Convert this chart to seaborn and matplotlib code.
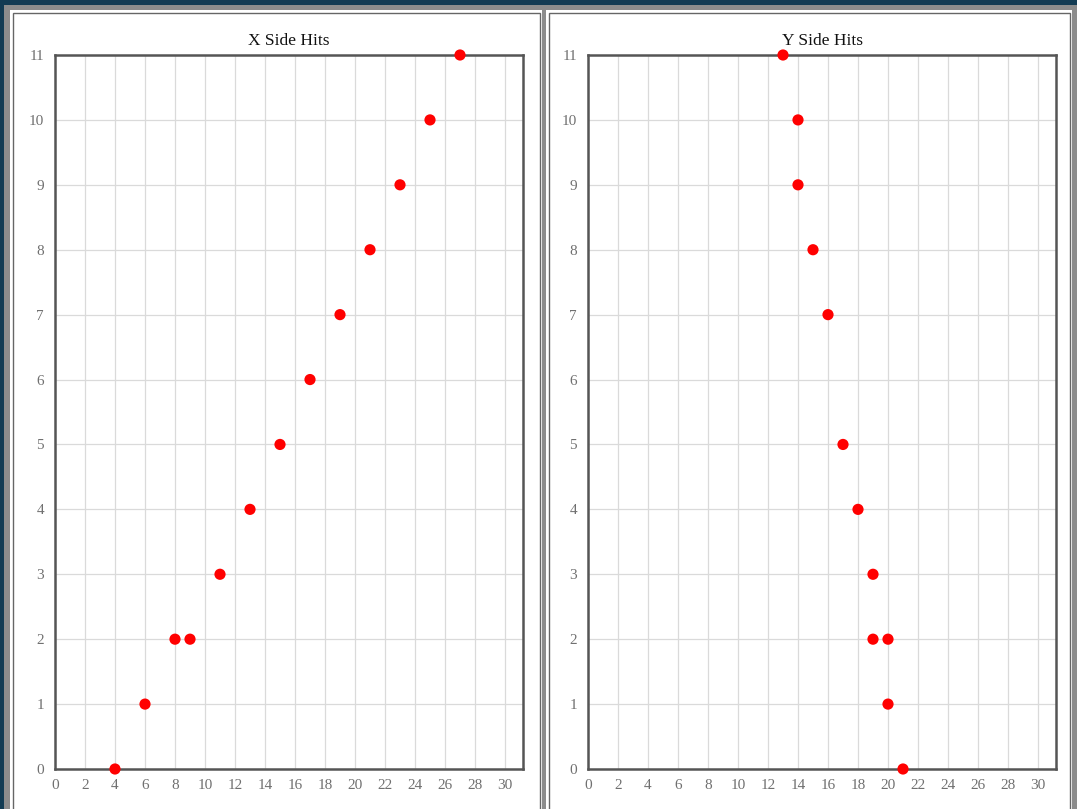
import matplotlib
matplotlib.use("Agg")
import matplotlib.pyplot as plt
from matplotlib.patches import Rectangle
import seaborn as sns
import pandas as pd

# X side hits
x_side_x = [4, 6, 8, 9, 11, 13, 15, 17, 19, 21, 23, 25, 27]
x_side_y = [0, 1, 2, 2, 3, 4, 5, 6, 7, 8, 9, 10, 11]

# Y side hits
y_side_x = [21, 20, 19, 20, 19, 18, 17, 16, 15, 14, 14, 13]
y_side_y = [0, 1, 2, 2, 3, 4, 5, 7, 8, 9, 10, 11]

x_ticks = list(range(0, 31, 2))
y_ticks = list(range(0, 12))

sns.set_theme(style="whitegrid")
plt.rcParams['font.family'] = ['Liberation Serif', 'DejaVu Serif']

W, H = 1077, 809
fig = plt.figure(figsize=(W / 100, H / 100), dpi=100)
fig.patch.set_facecolor('#123b53')


def px_rect(x0, y0, x1, y1, **kw):
    # rectangle in pixel coords (top-left origin), kept behind the axes
    return Rectangle((x0 / W, 1 - y1 / H), (x1 - x0) / W, (y1 - y0) / H,
                     transform=fig.transFigure, zorder=-10, **kw)


fig.patches.append(px_rect(4, 5, W, H + 5, facecolor='#8c8c8c', edgecolor='none'))
fig.patches.append(px_rect(10, 10, 542, H + 5, facecolor='white', edgecolor='none'))
fig.patches.append(px_rect(546, 10, 1072, H + 5, facecolor='white', edgecolor='none'))
fig.patches.append(px_rect(12.5, 12.5, 540, H + 5, facecolor='none', edgecolor='#666666', linewidth=1))
fig.patches.append(px_rect(548.5, 12.5, 1070, H + 5, facecolor='none', edgecolor='#666666', linewidth=1))

panels = [
    ("X Side Hits", x_side_x, x_side_y, 55),
    ("Y Side Hits", y_side_x, y_side_y, 588),
]

for title, xs, ys, left_px in panels:
    ax = fig.add_axes([left_px / W, (H - 769) / H, 468 / W, 714 / H])
    df = pd.DataFrame({'x': xs, 'y': ys})
    sns.scatterplot(data=df, x='x', y='y', ax=ax, color='#ff0000', s=65,
                    edgecolor='none', clip_on=False, zorder=5)
    ax.set_xlim(0, 31.2)
    ax.set_ylim(0, 11)
    ax.set_xticks(x_ticks)
    ax.set_yticks(y_ticks)
    ax.set_xlabel('')
    ax.set_ylabel('')
    ax.grid(True, color='#dadada', linewidth=0.9)
    ax.set_facecolor('white')
    for sp in ax.spines.values():
        sp.set_visible(True)
        sp.set_color('#555555')
        sp.set_linewidth(1.8)
    ax.tick_params(axis='both', length=0, labelsize=11, labelcolor='#707070')
    ax.tick_params(axis='x', pad=7)
    ax.tick_params(axis='y', pad=8)
    ax.set_title(title, fontsize=12.5, color='#111111', pad=7)

fig.savefig('out.png', dpi=100, facecolor=fig.get_facecolor())
